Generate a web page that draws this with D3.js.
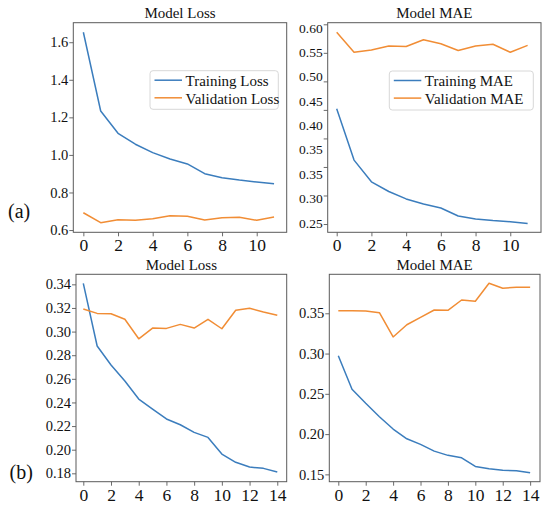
<!DOCTYPE html>
<html>
<head>
<meta charset="utf-8">
<script src="https://cdn.jsdelivr.net/npm/d3@7"></script>
<style>
  html, body { margin: 0; padding: 0; background: #fff; }
  svg { display: block; font-family: "Liberation Serif", "Times New Roman", serif; }
</style>
</head>
<body>
<div id="chart"></div>
<script>
// --- data ---
// (a) 12 epochs
const trainLossA = [1.653, 1.234, 1.115, 1.057, 1.012, 0.978, 0.952, 0.900, 0.879, 0.866, 0.856, 0.847];
const valLossA   = [0.692, 0.639, 0.655, 0.652, 0.660, 0.676, 0.673, 0.653, 0.666, 0.668, 0.652, 0.669];
const trainMaeA  = [0.452, 0.362, 0.324, 0.307, 0.294, 0.285, 0.278, 0.264, 0.259, 0.256, 0.254, 0.251];
const valMaeA    = [0.586, 0.551, 0.555, 0.562, 0.561, 0.573, 0.566, 0.554, 0.562, 0.565, 0.551, 0.563];
// (b) 15 epochs
const trainLossB = [0.3408, 0.2878, 0.2717, 0.2581, 0.2429, 0.2344, 0.2260, 0.2211, 0.2147, 0.2104, 0.1963, 0.1893, 0.1853, 0.1842, 0.1811];
const valLossB   = [0.3191, 0.3154, 0.3151, 0.3104, 0.2939, 0.3030, 0.3027, 0.3061, 0.3030, 0.3104, 0.3024, 0.3180, 0.3197, 0.3165, 0.3138];
const trainMaeB  = [0.2973, 0.2556, 0.2382, 0.2216, 0.2063, 0.1942, 0.1873, 0.1789, 0.1736, 0.1706, 0.1599, 0.1570, 0.1550, 0.1545, 0.1520];
const valMaeB    = [0.3532, 0.3532, 0.3529, 0.3507, 0.3206, 0.3358, 0.3450, 0.3541, 0.3537, 0.3665, 0.3649, 0.3873, 0.3811, 0.3823, 0.3823];

// tick values / labels
const xTicksA = [0, 2, 4, 6, 8, 10];
const xTicksB = [0, 2, 4, 6, 8, 10, 12, 14];
const lossTicksA = [0.6, 0.8, 1.0, 1.2, 1.4, 1.6];
const maeTickMarksA = [0.25, 0.30, 0.35, 0.40, 0.45, 0.50, 0.55, 0.60];
// the figure prints these labels along the axis (0.35 appears twice)
const maeTickLabelsA = ["0.60", "0.55", "0.50", "0.45", "0.40", "0.35", "0.35", "0.30", "0.25"];
const lossTicksB = [0.18, 0.20, 0.22, 0.24, 0.26, 0.28, 0.30, 0.32, 0.34];
const maeTicksB = [0.15, 0.20, 0.25, 0.30, 0.35];

const W = 550, H = 509;
const blue = "#3b7dbd", orange = "#f18d35";
const frameColor = "#5a5a5a";
const serif = "Liberation Serif, Times New Roman, serif";

const svg = d3.select("#chart").append("svg")
    .attr("width", W)
    .attr("height", H)
    .attr("font-family", serif);

// panel layout (pixel boxes) + scale domains fitted to the frames
const panels = [
  { title: "Model Loss", box: [73.3, 22.7, 286.7, 232.3], xDom: [-0.58, 11.73], yDom: [0.588, 1.704],
    train: trainLossA, val: valLossA, xTicks: xTicksA, yTicks: lossTicksA, yFmt: d3.format(".1f"),
    legend: { x: 150, y: 70.7, w: 128.3, h: 38.6, names: ["Training Loss", "Validation Loss"] } },
  { title: "Model MAE", box: [327.7, 22.7, 541, 232.3], xDom: [-0.518, 11.77], yDom: [0.2355, 0.6028],
    train: trainMaeA, val: valMaeA, xTicks: xTicksA, yTicks: maeTickMarksA, yLabels: maeTickLabelsA,
    labelRange: [28, 223],
    legend: { x: 389.3, y: 71, w: 144, h: 39, names: ["Training MAE", "Validation MAE"] } },
  { title: "Model Loss", box: [76, 274.3, 286.7, 481.7], xDom: [-0.527, 14.68], yDom: [0.1729, 0.3485],
    train: trainLossB, val: valLossB, xTicks: xTicksB, yTicks: lossTicksB, yFmt: d3.format(".2f") },
  { title: "Model MAE", box: [329.3, 274.3, 540, 481.7], xDom: [-0.657, 14.72], yDom: [0.1409, 0.3984],
    train: trainMaeB, val: valMaeB, xTicks: xTicksB, yTicks: maeTicksB, yFmt: d3.format(".2f") }
];

panels.forEach(p => {
  const [x0, y0, x1, y1] = p.box;
  const x = d3.scaleLinear().domain(p.xDom).range([x0, x1]);
  const y = d3.scaleLinear().domain(p.yDom).range([y1, y0]);
  const g = svg.append("g");

  // lines
  const line = d3.line().x((d, i) => x(i)).y(d => y(d));
  g.append("path").datum(p.train)
    .attr("d", line).attr("fill", "none")
    .attr("stroke", blue).attr("stroke-width", 1.5).attr("stroke-linejoin", "round");
  g.append("path").datum(p.val)
    .attr("d", line).attr("fill", "none")
    .attr("stroke", orange).attr("stroke-width", 1.5).attr("stroke-linejoin", "round");

  // x axis
  const xAxis = g.append("g")
    .attr("transform", `translate(0,${y1})`)
    .call(d3.axisBottom(x).tickValues(p.xTicks).tickFormat(d3.format("d")).tickSize(4).tickPadding(2.5));
  xAxis.attr("font-size", 17.5).attr("font-family", serif);

  // y axis
  const yAxis = g.append("g")
    .attr("transform", `translate(${x0},0)`)
    .call(d3.axisLeft(y).tickValues(p.yTicks).tickSize(4).tickPadding(1)
      .tickFormat(p.yLabels ? () => "" : p.yFmt));
  yAxis.attr("font-size", 14.5).attr("font-family", serif);

  [xAxis, yAxis].forEach(a => {
    a.select(".domain").remove();
    a.selectAll(".tick line").attr("stroke", frameColor).attr("stroke-width", 0.9);
    a.selectAll(".tick text").attr("fill", "#111");
  });

  // labels printed independently of the tick marks
  if (p.yLabels) {
    const ly = d3.scalePoint().domain(d3.range(p.yLabels.length)).range(p.labelRange);
    g.append("g").selectAll("text")
      .data(p.yLabels)
      .join("text")
      .attr("x", x0 - 5)
      .attr("y", (d, i) => ly(i))
      .attr("dy", "0.34em")
      .attr("text-anchor", "end")
      .attr("fill", "#111")
      .attr("font-size", 13.5)
      .text(d => d);
  }

  // frame
  g.append("rect")
    .attr("x", x0).attr("y", y0)
    .attr("width", x1 - x0).attr("height", y1 - y0)
    .attr("fill", "none").attr("stroke", frameColor).attr("stroke-width", 1);

  // title
  g.append("text")
    .attr("x", (x0 + x1) / 2).attr("y", y0 - 4.5)
    .attr("text-anchor", "middle")
    .attr("fill", "#111")
    .attr("font-size", 15)
    .text(p.title);

  // legend
  if (p.legend) {
    const L = p.legend;
    const lg = g.append("g");
    lg.append("rect")
      .attr("x", L.x).attr("y", L.y).attr("width", L.w).attr("height", L.h)
      .attr("rx", 3).attr("fill", "#fff").attr("fill-opacity", 0.85)
      .attr("stroke", "#d8d8d8").attr("stroke-width", 1);
    [blue, orange].forEach((c, i) => {
      const ry = L.y + 9.5 + i * 17.6;
      lg.append("line")
        .attr("x1", L.x + 4.5).attr("x2", L.x + 32)
        .attr("y1", ry).attr("y2", ry)
        .attr("stroke", c).attr("stroke-width", 1.5);
      lg.append("text")
        .attr("x", L.x + 35.5).attr("y", ry).attr("dy", "0.38em")
        .attr("fill", "#111")
        .attr("font-size", 15)
        .text(L.names[i]);
    });
  }
});

// row labels
svg.append("text").attr("x", 8).attr("y", 218)
  .attr("fill", "#111").attr("font-size", 20).text("(a)");
svg.append("text").attr("x", 9.5).attr("y", 479)
  .attr("fill", "#111").attr("font-size", 20).text("(b)");
</script>
</body>
</html>
